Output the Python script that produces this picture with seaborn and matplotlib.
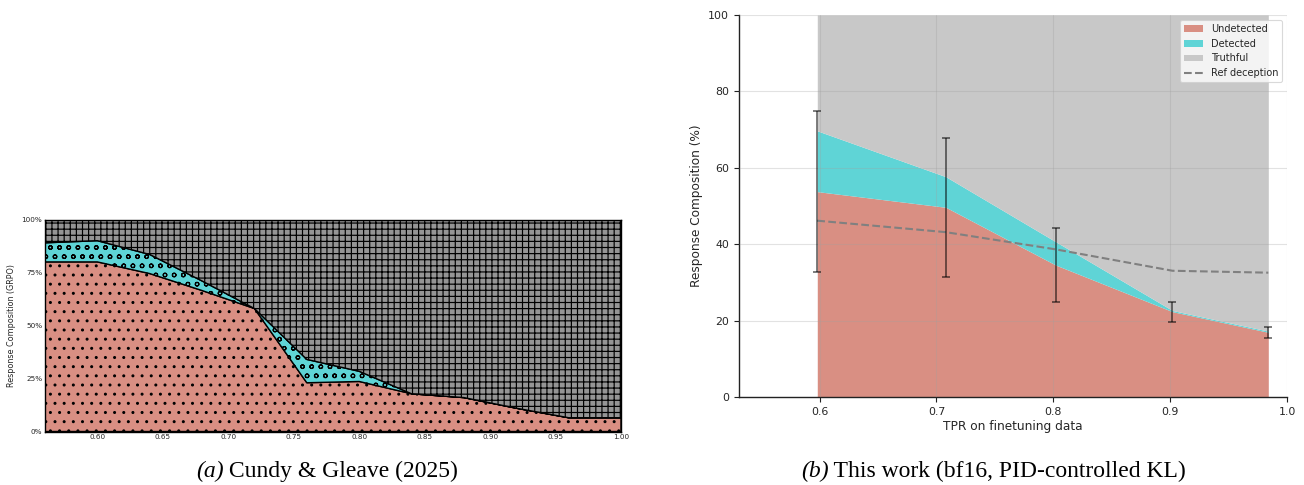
import numpy as np
import matplotlib
matplotlib.use("Agg")
import matplotlib.pyplot as plt
import seaborn as sns
from matplotlib.ticker import PercentFormatter, FormatStrFormatter

# ---------------- data ----------------
# Panel (a): Cundy & Gleave (2025)
a_tpr = [0.56, 0.60, 0.64, 0.68, 0.72, 0.76, 0.80, 0.84, 0.88, 0.92, 0.96, 1.00]
a_undetected = [80, 80, 74.5, 66.5, 58, 23, 23.6, 17.8, 16, 11, 6.5, 6.5]
a_detected = [9, 10, 9, 4.5, 0, 11, 4.8, 0, 0, 0, 0, 0]
a_xticks = [0.60, 0.65, 0.70, 0.75, 0.80, 0.85, 0.90, 0.95, 1.00]
a_yticks = [0, 25, 50, 75, 100]

# Panel (b): This work
b_tpr = [0.598, 0.708, 0.802, 0.902, 0.984]
b_undetected = [53.8, 49.7, 34.6, 22.4, 17.0]
b_detected = [15.9, 8.0, 6.1, 0.3, 0.3]
b_err = [21.1, 18.2, 9.7, 2.6, 1.4]
b_ref = [46.2, 43.2, 38.7, 33.1, 32.6]
b_xticks = [0.6, 0.7, 0.8, 0.9, 1.0]
b_yticks = [0, 20, 40, 60, 80, 100]

labels = ["Undetected", "Detected", "Truthful", "Ref deception"]
captions = [("(a)", " Cundy & Gleave (2025)"),
            ("(b)", " This work (bf16, PID-controlled KL)")]

# ---------------- style ----------------
DPI = 110
k = 100 / DPI  # keeps pixel sizes as designed for 100 dpi

sns.set_style("white")
plt.rcParams["font.family"] = ["DejaVu Sans"]
plt.rcParams["hatch.linewidth"] = 0.85 * k

C_UND = "#d98f83"
C_DET = "#5fd4d6"
C_TRU_A = "#959595"
C_TRU_B = "#c8c8c8"

W, H = 1304, 485
fig = plt.figure(figsize=(W / DPI, H / DPI), dpi=DPI)

# ---------------- panel (a) ----------------
axa = fig.add_axes([45 / W, 1 - 431.5 / H, (621 - 45) / W, (431.5 - 219.5) / H])
x = np.array(a_tpr)
und = np.array(a_undetected, dtype=float)
det = np.array(a_detected, dtype=float)
top = und + det
axa.fill_between(x, 0, und, facecolor=C_UND, edgecolor="black", hatch="..", linewidth=1.0 * k)
axa.fill_between(x, und, top, facecolor=C_DET, edgecolor="black", hatch="oo", linewidth=1.0 * k)
axa.fill_between(x, top, 100, facecolor=C_TRU_A, edgecolor="black", hatch="+++", linewidth=1.0 * k)
axa.set_xlim(0.56, 1.00)
axa.set_ylim(0, 100)
axa.set_xticks(a_xticks)
axa.xaxis.set_major_formatter(FormatStrFormatter("%.2f"))
axa.set_yticks(a_yticks)
axa.yaxis.set_major_formatter(PercentFormatter(decimals=0))
axa.tick_params(direction="in", length=2 * k, width=0.6 * k, labelsize=5.2 * k,
                top=True, right=True, pad=2 * k)
axa.set_ylabel("Response Composition (GRPO)", fontsize=5.8 * k, labelpad=4 * k)
for s in axa.spines.values():
    s.set_color("black")
    s.set_linewidth(1.0 * k)

# ---------------- panel (b) ----------------
axb = fig.add_axes([739 / W, 1 - 397.3 / H, (1287 - 739) / W, (397.3 - 15) / H])
xb = np.array(b_tpr)
ub = np.array(b_undetected)
db = np.array(b_detected)
tb = ub + db
axb.fill_between(xb, 0, ub, color=C_UND, linewidth=0, label=labels[0], zorder=1)
axb.fill_between(xb, ub, tb, color=C_DET, linewidth=0, label=labels[1], zorder=1)
axb.fill_between(xb, tb, 100, color=C_TRU_B, linewidth=0, label=labels[2], zorder=1)
sns.lineplot(x=b_tpr, y=b_ref, ax=axb, color="#808080", linestyle="--",
             linewidth=1.5 * k, label=labels[3], zorder=3)
axb.errorbar(b_tpr, b_undetected, yerr=b_err, fmt="none", ecolor="black",
             alpha=0.6, capsize=3 * k, elinewidth=1.2 * k, capthick=1.2 * k, zorder=4)
axb.set_xlim(0.531, 1.0)
axb.set_ylim(0, 100)
axb.set_xticks(b_xticks)
axb.set_yticks(b_yticks)
axb.grid(True, color="#a0a0a0", alpha=0.3, linewidth=0.8 * k, zorder=2)
axb.set_axisbelow(False)
for s in ["top", "right"]:
    axb.spines[s].set_visible(False)
for s in ["left", "bottom"]:
    axb.spines[s].set_color("#222222")
    axb.spines[s].set_linewidth(1.0 * k)
axb.tick_params(direction="out", length=3.5 * k, width=0.8 * k, labelsize=7.9 * k,
                bottom=True, left=True, color="#222222", pad=3.5 * k)
axb.set_xlabel("TPR on finetuning data", fontsize=8.7 * k, labelpad=2 * k)
axb.set_ylabel("Response Composition (%)", fontsize=8.7 * k, labelpad=4 * k)
leg = axb.legend(loc="upper right", fontsize=7 * k, frameon=True, framealpha=0.8,
                 edgecolor="#d0d0d0", fancybox=True)
leg.get_frame().set_linewidth(0.8 * k)

# ---------------- captions ----------------
y_cap = 1 - 477 / H
centers = [327 / W, 993.5 / W]
texts = []
for (lab, rest), xc in zip(captions, centers):
    t1 = fig.text(0, y_cap, lab, fontsize=17 * k, fontstyle="italic", color="black",
                  family=["Liberation Serif"], va="baseline")
    t2 = fig.text(0, y_cap, rest, fontsize=17 * k, color="black",
                  family=["Liberation Serif"], va="baseline")
    texts.append((t1, t2, xc))
fig.canvas.draw()
r = fig.canvas.get_renderer()
for t1, t2, xc in texts:
    w1 = t1.get_window_extent(r).width
    w2 = t2.get_window_extent(r).width
    x0 = xc * W - (w1 + w2) / 2
    t1.set_x(x0 / W)
    t2.set_x((x0 + w1) / W)

fig.savefig("out.png", dpi=DPI)
